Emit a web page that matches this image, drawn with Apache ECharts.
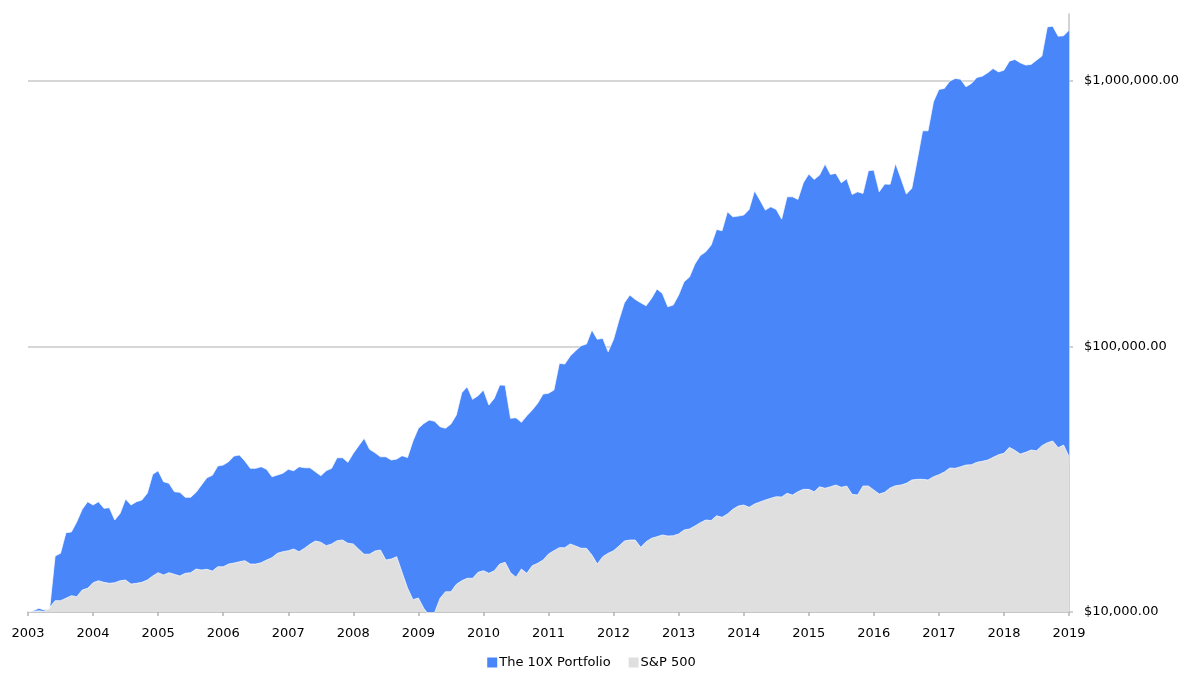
<!DOCTYPE html>
<html>
<head>
<meta charset="utf-8">
<title>The 10X Portfolio vs S&amp;P 500</title>
<script src="https://cdn.jsdelivr.net/npm/echarts@6/dist/echarts.min.js"></script>
<style>
  html, body { margin: 0; padding: 0; background: #fff; }
  #chart { width: 1183px; height: 683px; }
</style>
</head>
<body>
<div id="chart"></div>
<script>
// monthly values, Jan 2003 .. Jan 2019
const portfolio = [
  10030, 10110, 10330, 10170, 10300, 16240, 16630, 19880, 20000, 21860, 24340, 26000,
  25270, 26000, 24550, 24680, 22190, 23510, 26620, 25270, 26000, 26390, 27960, 32960,
  34010, 30920, 30500, 28350, 28200, 27010, 27010, 28200, 30050, 32010, 32680, 35420,
  35730, 36770, 38630, 38960, 36990, 34720, 34720, 35210, 34420, 32280, 32770, 33260,
  34420, 34010, 35210, 34900, 34900, 33720, 32570, 34010, 34720, 38060, 38060, 36580,
  39540, 42240, 45030, 40940, 39750, 38390, 38390, 37310, 37630, 38730, 38130, 43990,
  49110, 51200, 52770, 52180, 49800, 49110, 50970, 55110, 66830, 70400, 63120, 65130,
  68430, 60090, 63680, 71450, 71300, 53550, 53830, 51720, 54770, 57540, 60980, 66100,
  66500, 68430, 86260, 85700, 91870, 96180, 100400, 101900, 115100, 106200, 107100, 95350,
  106200, 125500, 145800, 155800, 150100, 145800, 142000, 151400, 164200, 158100, 140800, 142900,
  155800, 174900, 182100, 203900, 219400, 226700, 240300, 275300, 272000, 320600, 307000, 308900,
  311600, 327300, 384600, 354800, 325400, 334800, 327300, 301000, 365200, 365200, 357000, 412200,
  444600, 424600, 440800, 484700, 443400, 447300, 412200, 426800, 372800, 381300, 376000, 457500,
  460300, 381300, 407600, 407000, 487600, 428300, 373800, 392700, 501700, 647000, 647000, 831700,
  925700, 934000, 994800, 1018000, 1012000, 947000, 975200, 1027000, 1039000, 1069000, 1110000, 1078000,
  1094000, 1183000, 1201000, 1166000, 1143000, 1150000, 1193000, 1236000, 1592000, 1602000, 1469000, 1473000,
  1547000
]

const sp500 = [
  10030, 10050, 10100, 10050, 10400, 11030, 11030, 11260, 11520, 11420, 12100, 12280,
  12890, 13110, 12930, 12820, 12890, 13110, 13190, 12740, 12820, 12930, 13190, 13660,
  14060, 13780, 14060, 13860, 13660, 13980, 14060, 14510, 14390, 14480, 14260, 14800,
  14800, 15150, 15280, 15460, 15600, 15150, 15150, 15320, 15690, 16010, 16630, 16860,
  17010, 17260, 16860, 17370, 17980, 18500, 18300, 17760, 18030, 18550, 18660, 18140,
  18030, 17220, 16490, 16510, 16960, 17110, 15690, 15830, 16150, 14080, 12310, 11130,
  11290, 10320, 9700, 9950, 11260, 11920, 11920, 12710, 13110, 13390, 13390, 14100,
  14300, 13980, 14300, 15150, 15380, 14060, 13510, 14510, 13980, 14940, 15250, 15690,
  16530, 17010, 17460, 17460, 18030, 17710, 17370, 17370, 16390, 15150, 16150, 16630,
  17010, 17710, 18500, 18660, 18660, 17520, 18390, 18940, 19200, 19490, 19320, 19360,
  19660, 20350, 20530, 21070, 21680, 22190, 22090, 23030, 22720, 23370, 24340, 25050,
  25270, 24770, 25490, 25930, 26390, 26780, 27160, 27090, 27960, 27560, 28350, 28940,
  28940, 28350, 29610, 29210, 29610, 30050, 29460, 29790, 27720, 27560, 29790, 29790,
  28770, 27790, 28200, 29290, 29870, 30050, 30500, 31380, 31570, 31570, 31380, 32280,
  32860, 33630, 34820, 34720, 35210, 35730, 35830, 36580, 36900, 37310, 38190, 39060,
  39540, 41650, 40590, 39300, 39890, 40690, 40450, 42240, 43350, 43990, 41510, 42500,
  38390
]

// month categories 2003-01 .. 2019-01
const months = []
for (let y = 2003; y <= 2019; y++) {
  for (let m = 1; m <= 12; m++) {
    months.push(y + '-' + (m < 10 ? '0' + m : m))
    if (y === 2019) break
  }
}

const yMin = 10000
const yMax = 1780000
const font = 'DejaVu Sans'

function money(v) {
  const n = Math.round(v)
  return '$' + String(n).replace(/\B(?=(\d{3})+(?!\d))/g, ',') + '.00'
}

const chart = echarts.init(document.getElementById('chart'))

chart.setOption({
  animation: false,
  textStyle: { fontFamily: font },
  grid: {
    left: 28, right: 114, top: 14, bottom: 71,
    containLabel: false,
    outerBoundsMode: 'none'
  },
  legend: {
    bottom: 9,
    left: 'center',
    icon: 'rect',
    itemWidth: 10,
    itemHeight: 10,
    itemGap: 18,
    textStyle: { fontFamily: font, fontSize: 13, color: '#000', padding: [0, 0, 0, -3] },
    data: ['The 10X Portfolio', 'S&P 500']
  },
  xAxis: {
    type: 'category',
    data: months,
    boundaryGap: false,
    axisLine: { lineStyle: { color: '#b4b4b4', width: 1.5 } },
    axisTick: { interval: 11, length: 4, lineStyle: { color: '#b4b4b4', width: 1.5 } },
    axisLabel: {
      interval: 11,
      margin: 15,
      fontFamily: font,
      fontSize: 13,
      color: '#000',
      formatter: (v) => v.slice(0, 4)
    },
    splitLine: { show: false }
  },
  yAxis: {
    type: 'log',
    logBase: 10,
    min: yMin,
    max: yMax,
    position: 'right',
    axisLine: { show: true, lineStyle: { color: '#c4c4c4', width: 1.5 } },
    axisTick: { show: true, length: 4, lineStyle: { color: '#c4c4c4', width: 1.5 } },
    axisLabel: {
      margin: 15,
      fontFamily: font,
      fontSize: 13,
      color: '#000',
      showMaxLabel: false,
      formatter: (v) => {
        const l = Math.log10(v)
        return Math.abs(l - Math.round(l)) < 1e-6 ? money(v) : ''
      }
    },
    splitLine: {
      show: true,
      showMinLine: false,
      showMaxLine: false,
      lineStyle: { color: '#c8c8c8', width: 1.5 }
    }
  },
  series: [
    {
      name: 'The 10X Portfolio',
      type: 'line',
      data: portfolio,
      symbol: 'none',
      color: '#4886f9',
      lineStyle: { color: '#ffffff', width: 1, opacity: 0.7 },
      areaStyle: { color: '#4886f9', opacity: 1, origin: 'start' }
    },
    {
      name: 'S&P 500',
      type: 'line',
      data: sp500,
      symbol: 'none',
      color: '#dfdfdf',
      lineStyle: { color: '#ffffff', width: 1, opacity: 0.7 },
      areaStyle: { color: '#dfdfdf', opacity: 1, origin: 'start' }
    }
  ]
})
</script>
</body>
</html>
